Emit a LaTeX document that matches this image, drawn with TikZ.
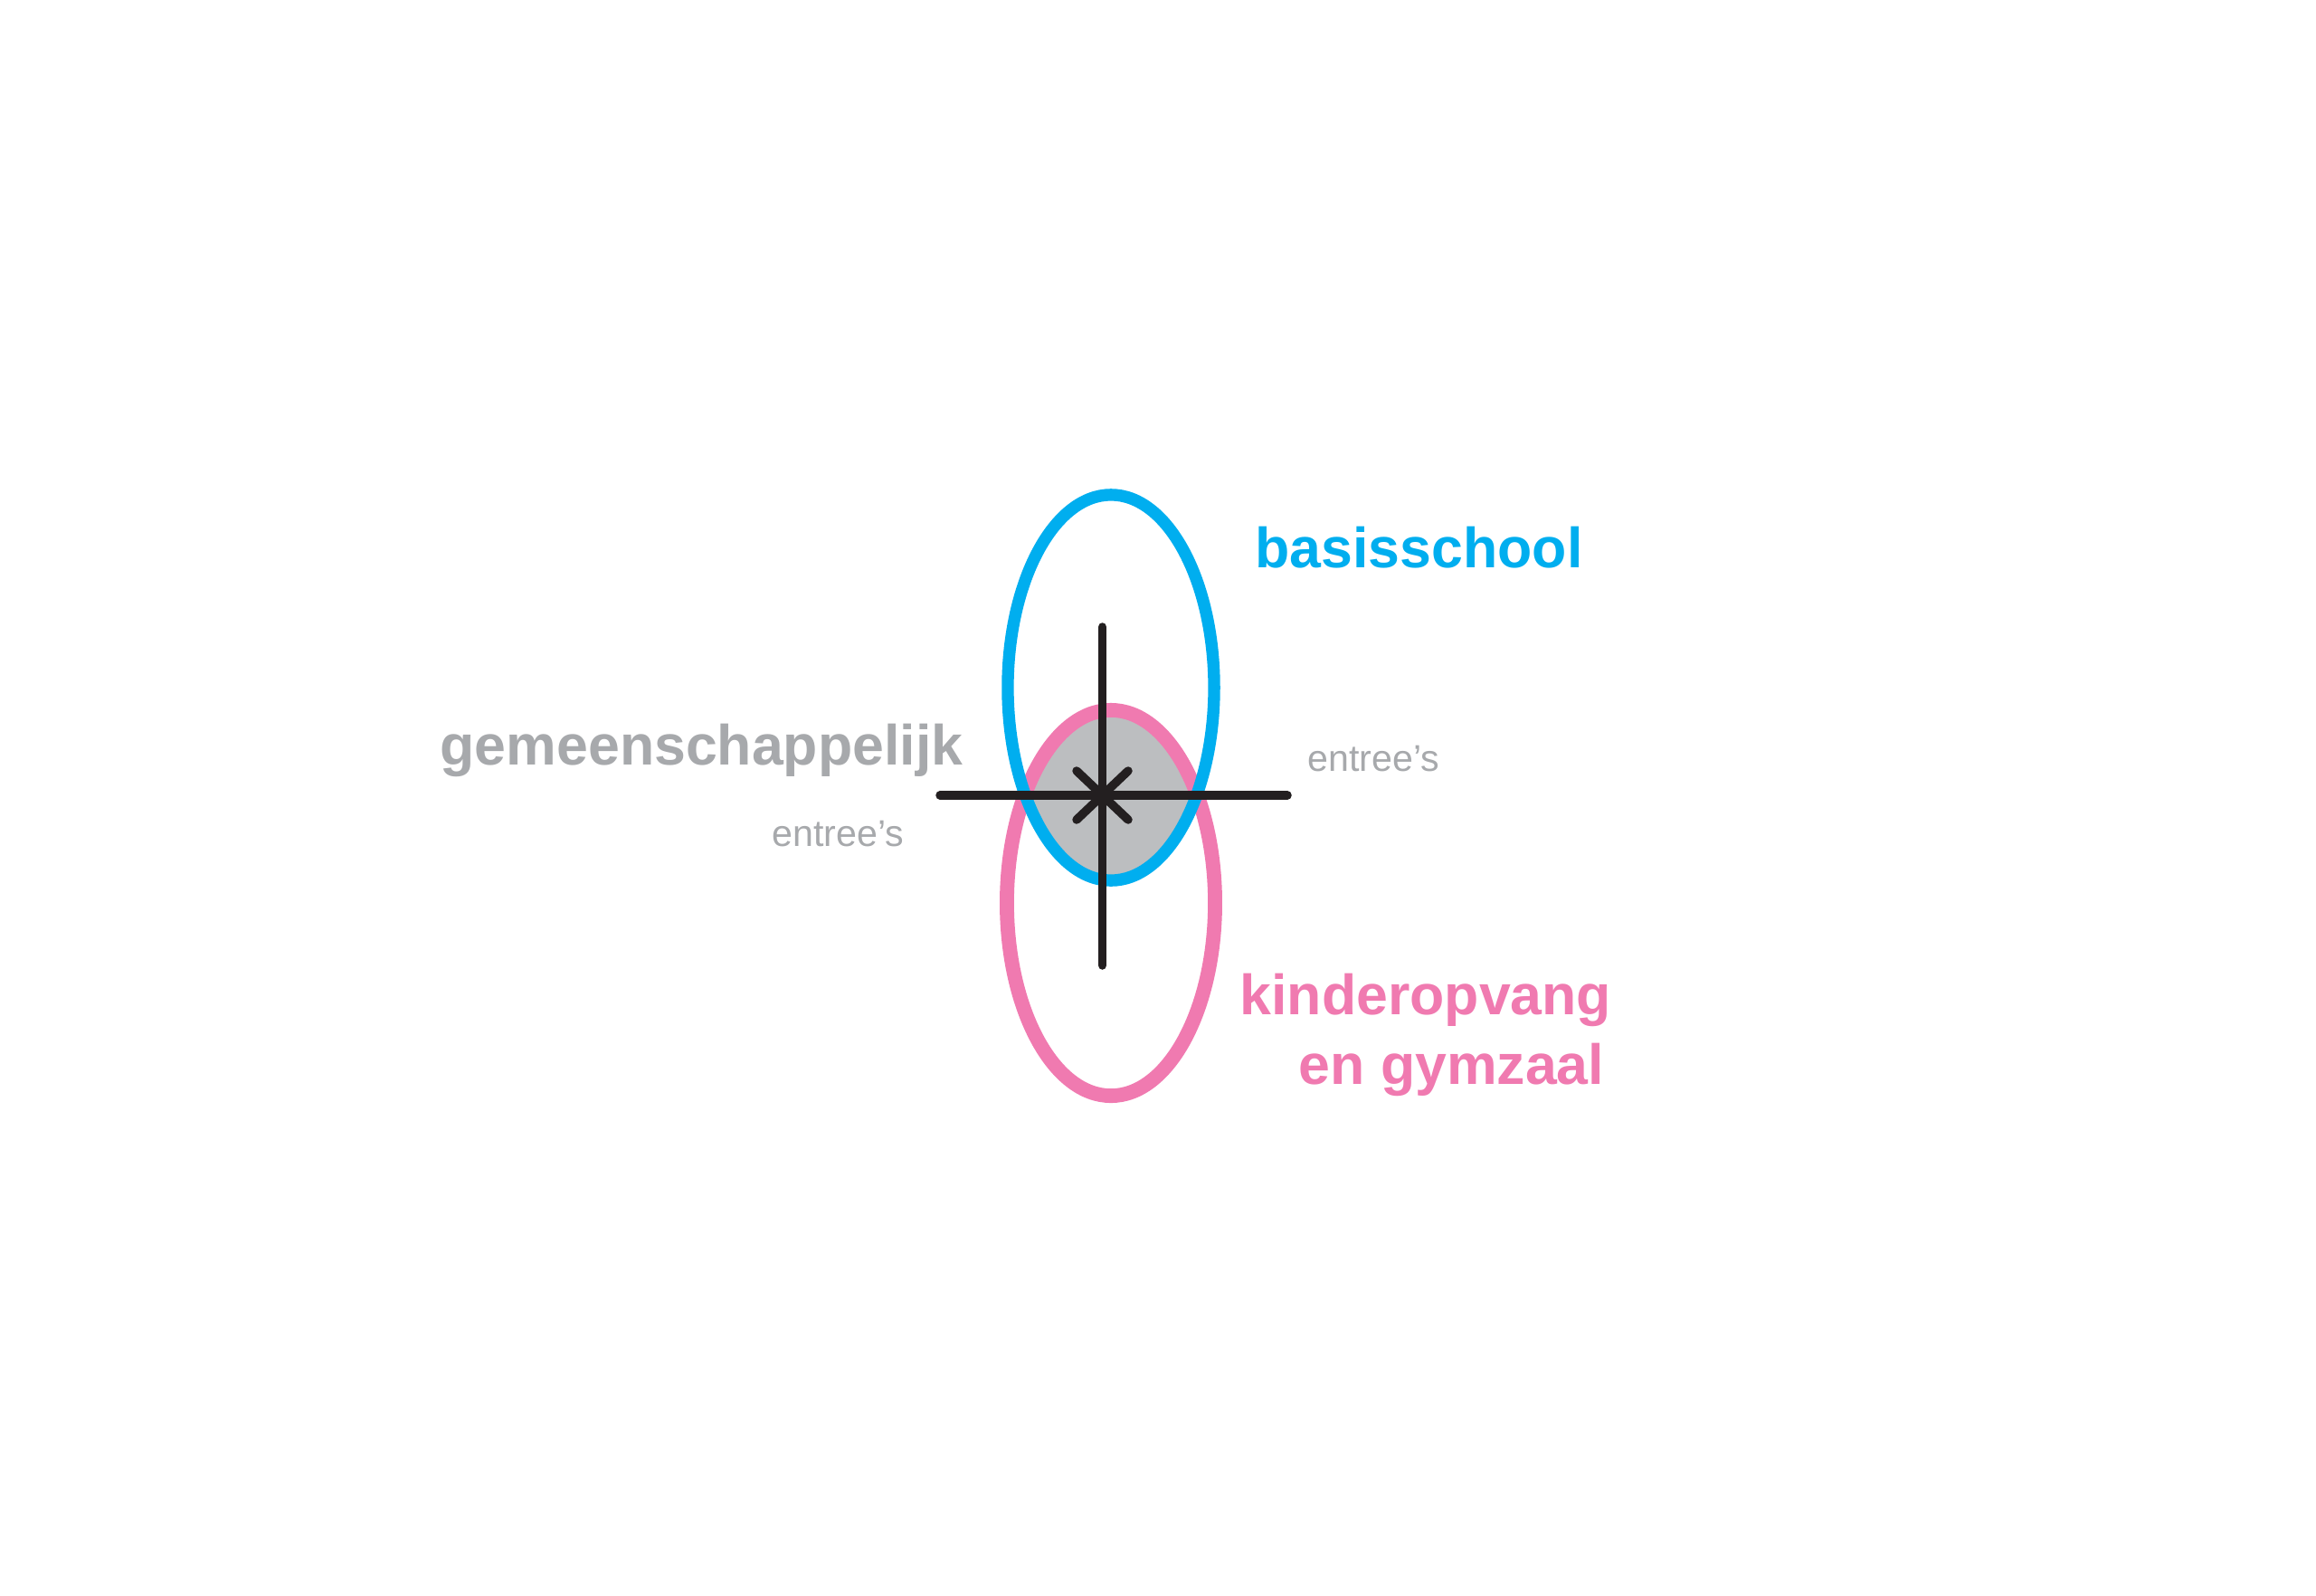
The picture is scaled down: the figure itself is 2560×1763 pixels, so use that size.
\documentclass[tikz,border=0pt]{standalone}
\usepackage{fontspec}
\setmainfont{Liberation Sans}
\definecolor{cblue}{HTML}{00AEEF}
\definecolor{cpink}{HTML}{F07AB0}
\definecolor{cgraytxt}{HTML}{A7A9AC}
\definecolor{cgrayfill}{HTML}{BCBEC0}
\definecolor{cblack}{HTML}{231F20}
\tikzset{
  bigtxt/.style={inner sep=0pt, anchor=base west, font=\fontsize{17.8pt}{20pt}\selectfont\bfseries},
  smalltxt/.style={inner sep=0pt, anchor=base west, text=cgraytxt, font=\fontsize{11.7pt}{14pt}\selectfont},
  axis/.style={draw=cblack, line width=2.7pt, line cap=round},
}
\begin{document}
\begin{tikzpicture}[x=0.01cm,y=-0.01cm]
\useasboundingbox[fill=white] (0,0) rectangle (2560,1763);
% shared zone
\begin{scope}
  \clip (1228,760) ellipse [x radius=1.14cm, y radius=2.13cm];
  \fill[cgrayfill] (1228,998) ellipse [x radius=1.15cm, y radius=2.13cm];
\end{scope}
\draw[cpink, line width=4.5pt] (1228,998) ellipse [x radius=1.15cm, y radius=2.13cm];
\draw[cblue, line width=3.8pt] (1228,760) ellipse [x radius=1.14cm, y radius=2.13cm];
% axes
\coordinate (c) at (1218.5,879);
\coordinate (top) at (1218.5,693);
\coordinate (bot) at (1218.5,1067);
\coordinate (lft) at (1039,879);
\coordinate (rgt) at (1423,879);
\coordinate (x1) at (1190,852);
\coordinate (x2) at (1247,906);
\coordinate (x3) at (1190,906);
\coordinate (x4) at (1247,852);
\draw[axis] (top) -- (bot);
\draw[axis] (lft) -- (rgt);
\draw[axis] (x1) -- (x2);
\draw[axis] (x3) -- (x4);
% labels
\node[bigtxt, text=cblue] (bs) at (1387,627) {basisschool};
\node[bigtxt, text=cgraytxt] (gm) at (486,845) {gemeenschappelijk};
\node[smalltxt] (e1) at (1445,852) {entree’s};
\node[smalltxt] (e2) at (853,935) {entree’s};
\node[bigtxt, text=cpink] (ko) at (1370,1121) {kinderopvang};
\node[bigtxt, text=cpink] (gz) at (1435,1198) {en gymzaal};
\end{tikzpicture}
\end{document}
